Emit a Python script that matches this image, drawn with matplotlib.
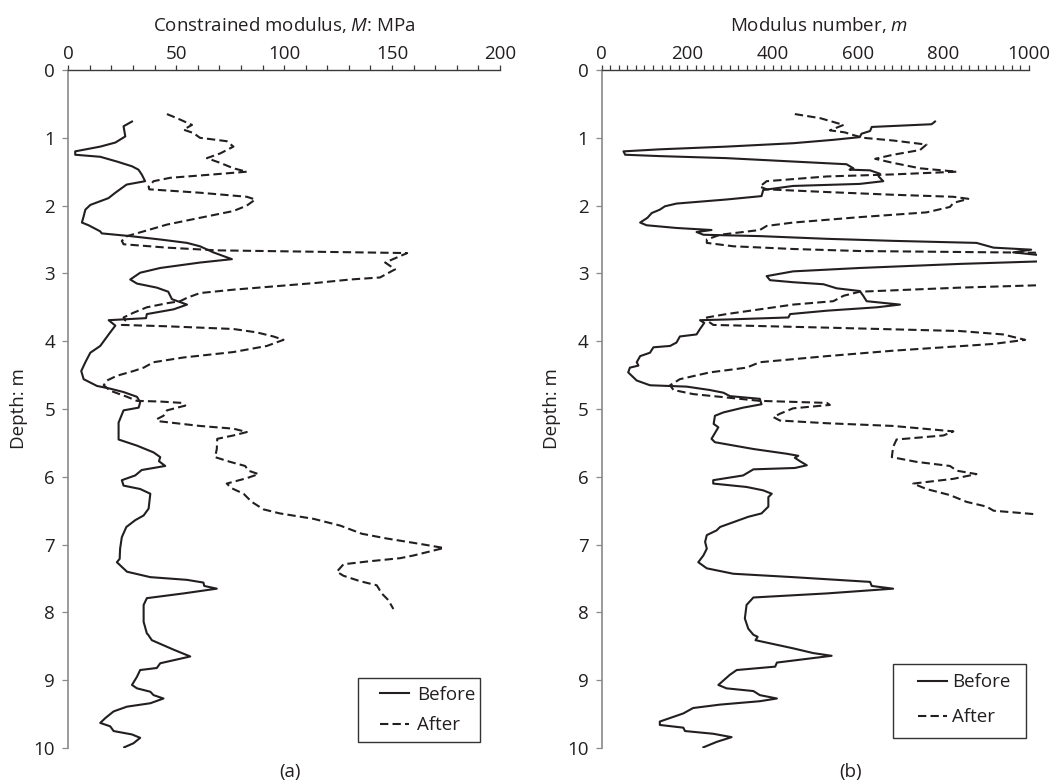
import matplotlib
matplotlib.use('Agg')
import matplotlib.pyplot as plt
from matplotlib.ticker import MultipleLocator
from matplotlib.patches import Rectangle

plt.rcParams['font.family'] = ['Open Sans', 'DejaVu Sans']
plt.rcParams['mathtext.fontset'] = 'custom'
plt.rcParams['mathtext.it'] = 'Open Sans:italic'
plt.rcParams['mathtext.rm'] = 'Open Sans'

INK = '#231f20'
FS = 13.5

# (a) constrained modulus M (MPa) against depth (m)
depth_a_before = [0.76, 0.83, 0.98, 1.07, 1.13, 1.20, 1.25, 1.28, 1.35, 1.42, 1.47, 1.54, 1.64, 1.69,
                  1.81, 1.89, 1.99, 2.06, 2.16, 2.25, 2.29, 2.38, 2.41, 2.45, 2.50, 2.55, 2.60, 2.69,
                  2.79, 2.84, 2.92, 2.99, 3.09, 3.15, 3.21, 3.27, 3.38, 3.46, 3.53, 3.60, 3.66, 3.69,
                  3.77, 3.87, 4.07, 4.17, 4.31, 4.44, 4.56, 4.66, 4.70, 4.75, 4.82, 4.90, 4.98, 5.02,
                  5.20, 5.45, 5.54, 5.64, 5.71, 5.77, 5.84, 5.90, 5.98, 6.05, 6.13, 6.18, 6.25, 6.47,
                  6.57, 6.64, 6.74, 6.89, 7.06, 7.21, 7.26, 7.40, 7.48, 7.52, 7.56, 7.61, 7.65, 7.72,
                  7.79, 7.89, 8.14, 8.31, 8.33, 8.41, 8.55, 8.65, 8.75, 8.82, 8.85, 8.95, 9.07, 9.12,
                  9.17, 9.22, 9.27, 9.34, 9.39, 9.46, 9.56, 9.63, 9.68, 9.75, 9.80, 9.85, 9.93, 9.99]
M_before = [29.5, 25.6, 26.4, 21.8, 14.8, 3.2, 3.2, 14.8, 22.5, 29.5, 32.5, 34.0, 35.6, 27.0,
            21.8, 18.6, 10.2, 7.9, 7.1, 6.3, 9.4, 14.8, 15.5, 28.7, 42.6, 55.0, 61.0, 67.2,
            75.8, 61.0, 42.6, 33.3, 28.7, 31.8, 41.0, 46.3, 48.0, 55.0, 48.8, 36.4, 36.0, 18.7,
            21.8, 19.4, 14.8, 10.2, 7.9, 6.0, 7.1, 13.3, 19.4, 25.6, 31.8, 33.3, 32.6, 25.6,
            23.3, 23.3, 31.8, 39.5, 42.6, 42.0, 44.9, 34.0, 31.0, 24.8, 25.6, 33.3, 38.0, 37.2,
            34.9, 31.0, 26.9, 24.8, 24.0, 23.8, 22.5, 27.2, 38.0, 55.0, 62.6, 63.0, 68.8, 53.4,
            36.4, 34.9, 34.9, 36.4, 37.0, 38.7, 48.8, 56.5, 42.6, 41.0, 33.3, 31.8, 29.5, 31.8,
            38.0, 39.5, 44.1, 38.0, 27.2, 21.0, 17.1, 14.8, 19.4, 21.0, 29.5, 33.3, 30.2, 25.9]

depth_a_after = [0.65, 0.71, 0.81, 0.88, 0.93, 1.00, 1.05, 1.13, 1.23, 1.30, 1.37, 1.45, 1.50, 1.54,
                 1.59, 1.64, 1.72, 1.76, 1.81, 1.87, 1.91, 2.00, 2.08, 2.18, 2.28, 2.38, 2.45, 2.52,
                 2.57, 2.62, 2.66, 2.70, 2.84, 2.94, 3.06, 3.09, 3.14, 3.20, 3.24, 3.29, 3.36, 3.41,
                 3.44, 3.50, 3.58, 3.65, 3.69, 3.76, 3.78, 3.82, 3.87, 3.93, 3.98, 4.07, 4.16, 4.24,
                 4.31, 4.39, 4.44, 4.51, 4.58, 4.65, 4.73, 4.82, 4.88, 4.89, 4.91, 4.95, 5.02, 5.10,
                 5.15, 5.18, 5.25, 5.29, 5.34, 5.39, 5.44, 5.59, 5.71, 5.78, 5.84, 5.91, 5.96, 6.02,
                 6.10, 6.17, 6.25, 6.37, 6.48, 6.54, 6.62, 6.72, 6.84, 6.91, 6.99, 7.05, 7.16, 7.20,
                 7.25, 7.29, 7.40, 7.46, 7.54, 7.60, 7.72, 7.82, 7.95]
M_after = [45.7, 50.3, 57.3, 53.4, 58.0, 61.0, 73.4, 76.5, 70.4, 64.2, 70.4, 76.5, 82.7, 67.3,
           47.2, 39.5, 37.2, 37.5, 61.0, 82.7, 86.6, 82.7, 76.5, 61.0, 45.7, 34.9, 27.2, 24.8,
           25.6, 45.7, 68.8, 157.0, 146.8, 151.4, 144.4, 130.6, 115.0, 92.0, 76.5, 61.0, 55.0, 51.8,
           45.7, 36.4, 30.2, 25.6, 26.4, 24.8, 45.7, 76.5, 87.3, 95.0, 99.7, 92.0, 76.5, 53.4,
           39.5, 34.9, 30.2, 22.5, 17.9, 16.4, 19.4, 27.2, 31.8, 42.6, 52.6, 54.2, 45.7, 44.1,
           41.0, 41.8, 61.0, 76.5, 82.7, 76.5, 69.0, 68.8, 68.0, 75.0, 81.9, 83.5, 88.1, 82.7,
           73.4, 75.8, 81.2, 85.0, 90.4, 98.0, 113.6, 126.0, 136.0, 147.5, 163.0, 174.0, 160.0, 153.8,
           138.3, 127.5, 124.4, 127.5, 135.2, 142.9, 145.2, 148.3, 150.6]

# (b) modulus number m against depth (m)
depth_b_before = [0.76, 0.80, 0.84, 0.90, 0.94, 0.99, 1.03, 1.08, 1.13, 1.17, 1.20, 1.25, 1.27, 1.30,
                  1.35, 1.39, 1.45, 1.47, 1.48, 1.53, 1.57, 1.64, 1.68, 1.71, 1.77, 1.86, 1.91, 1.97,
                  2.01, 2.06, 2.11, 2.18, 2.25, 2.29, 2.33, 2.36, 2.39, 2.43, 2.45, 2.49, 2.52, 2.55,
                  2.62, 2.65, 2.69, 2.74, 2.82, 2.86, 2.92, 2.97, 3.04, 3.10, 3.13, 3.16, 3.22, 3.26,
                  3.33, 3.41, 3.46, 3.50, 3.55, 3.60, 3.65, 3.68, 3.69, 3.73, 3.82, 3.90, 3.93, 4.02,
                  4.07, 4.09, 4.17, 4.22, 4.31, 4.36, 4.39, 4.46, 4.58, 4.65, 4.67, 4.72, 4.76, 4.81,
                  4.85, 4.93, 4.98, 5.05, 5.10, 5.22, 5.27, 5.44, 5.49, 5.59, 5.66, 5.69, 5.72, 5.77,
                  5.83, 5.87, 5.89, 5.95, 5.98, 6.05, 6.10, 6.15, 6.20, 6.25, 6.30, 6.44, 6.54, 6.59,
                  6.67, 6.74, 6.79, 6.86, 6.96, 7.06, 7.16, 7.26, 7.35, 7.43, 7.48, 7.55, 7.61, 7.65,
                  7.72, 7.78, 7.89, 8.09, 8.24, 8.33, 8.36, 8.41, 8.53, 8.60, 8.64, 8.74, 8.80, 8.85,
                  8.92, 9.07, 9.12, 9.16, 9.22, 9.27, 9.31, 9.36, 9.41, 9.49, 9.61, 9.66, 9.70, 9.75,
                  9.79, 9.84, 9.91, 9.99]
m_before = [780, 772, 632, 628, 608, 604, 542, 448, 292, 136, 51, 55, 136, 292,
            448, 573, 589, 580, 628, 651, 648, 659, 604, 448, 378, 374, 292, 175,
            148, 136, 117, 107, 90, 105, 175, 257, 222, 238, 370, 527, 682, 877,
            917, 1005, 963, 1040, 1040, 838, 604, 448, 386, 394, 448, 519, 550, 604,
            612, 620, 698, 644, 527, 441, 437, 292, 230, 240, 230, 222, 183, 175,
            160, 121, 113, 90, 82, 86, 66, 62, 82, 113, 199, 253, 285, 300,
            370, 374, 331, 285, 265, 262, 273, 257, 265, 355, 433, 460, 452, 464,
            480, 452, 355, 339, 331, 261, 261, 339, 378, 398, 390, 390, 374, 343,
            308, 277, 269, 246, 242, 246, 238, 226, 246, 308, 448, 628, 632, 682,
            527, 355, 339, 335, 343, 355, 365, 360, 448, 495, 538, 410, 406, 316,
            300, 273, 292, 355, 370, 410, 370, 277, 214, 191, 136, 136, 191, 195,
            261, 304, 269, 238]

depth_b_after = [0.65, 0.71, 0.81, 0.89, 0.92, 0.96, 1.00, 1.04, 1.10, 1.18, 1.25, 1.31, 1.37, 1.45,
                 1.50, 1.54, 1.57, 1.64, 1.72, 1.76, 1.80, 1.84, 1.87, 1.90, 1.96, 2.02, 2.10, 2.17,
                 2.25, 2.30, 2.36, 2.43, 2.50, 2.55, 2.60, 2.64, 2.67, 2.70, 3.16, 3.21, 3.27, 3.33,
                 3.41, 3.46, 3.53, 3.60, 3.65, 3.71, 3.76, 3.80, 3.85, 3.90, 3.98, 4.04, 4.14, 4.22,
                 4.31, 4.39, 4.46, 4.56, 4.65, 4.72, 4.78, 4.83, 4.88, 4.91, 4.94, 4.99, 5.07, 5.12,
                 5.17, 5.21, 5.25, 5.33, 5.39, 5.45, 5.56, 5.71, 5.78, 5.84, 5.91, 5.96, 6.03, 6.10,
                 6.18, 6.27, 6.37, 6.44, 6.50, 6.56]
m_after = [452, 511, 566, 534, 569, 589, 612, 682, 760, 745, 682, 640, 682, 745,
           831, 682, 527, 386, 370, 386, 527, 682, 823, 858, 823, 815, 760, 604,
           448, 386, 370, 277, 246, 246, 308, 448, 604, 1100, 1100, 838, 604, 566,
           542, 448, 370, 292, 246, 250, 261, 527, 838, 939, 991, 917, 682, 527,
           370, 339, 253, 183, 160, 168, 214, 292, 370, 527, 534, 448, 417, 402,
           417, 527, 682, 823, 800, 690, 682, 679, 737, 815, 831, 877, 823, 729,
           760, 815, 854, 901, 917, 1030]

legend_labels = ['Before', 'After']


def style_axes(ax, xmax, major, minor, xlabel):
    ax.set_ylim(10, 0)
    ax.xaxis.tick_top()
    ax.xaxis.set_label_position('top')
    ax.set_xticks(range(0, xmax + 1, major))
    ax.xaxis.set_minor_locator(MultipleLocator(minor))
    ax.set_yticks(range(0, 11))
    for s in ['right', 'bottom']:
        ax.spines[s].set_visible(False)
    ax.spines['top'].set_color('#3a3a3a')
    ax.spines['left'].set_color('#8a8a8a')
    ax.spines['top'].set_linewidth(1.0)
    ax.spines['left'].set_linewidth(1.2)
    ax.spines['top'].set_bounds(0, xmax)
    ax.tick_params(axis='x', which='both', direction='out', length=3.5, width=0.9,
                   color='#3a3a3a', labelsize=FS, labelcolor=INK, pad=1.5)
    ax.tick_params(axis='y', direction='out', length=4.5, width=0.9,
                   color='#8a8a8a', labelsize=FS, labelcolor=INK, pad=5)
    ax.set_xlabel(xlabel, fontsize=FS, color=INK, labelpad=10)
    ax.set_ylabel('Depth: m', fontsize=FS, color=INK, labelpad=4)


def boxed_legend(ax, box, anchor, spacing, textpad):
    ax.add_patch(Rectangle(box[:2], box[2], box[3], transform=ax.transAxes, fill=False,
                           edgecolor='#333333', lw=1.0, clip_on=False, zorder=5))
    leg = ax.legend(loc='upper left', bbox_to_anchor=anchor, frameon=False, fontsize=FS,
                    handlelength=1.55, handletextpad=textpad, labelspacing=spacing,
                    borderpad=0, borderaxespad=0)
    for t in leg.get_texts():
        t.set_color(INK)


fig = plt.figure(figsize=(10.6, 7.84), dpi=100)
ax1 = fig.add_axes([68.3 / 1060, 1 - 748 / 784, 431.7 / 1060, 678 / 784])
ax2 = fig.add_axes([601.7 / 1060, 1 - 748 / 784, 435.0 / 1060, 678 / 784])

ax1.plot(M_before, depth_a_before, color=INK, lw=1.5, label=legend_labels[0])
ax1.plot(M_after, depth_a_after, color=INK, lw=1.5, ls=(0, (4, 2)), label=legend_labels[1])
ax1.set_xlim(0, 200)
style_axes(ax1, 200, 50, 10, 'Constrained modulus, $\\mathit{M}$: MPa')
boxed_legend(ax1, (0.671, 0.0088, 0.2826, 0.0944), (0.722, 0.092), 0.68, 0.42)

ax2.plot(m_before, depth_b_before, color=INK, lw=1.5, label=legend_labels[0])
ax2.plot(m_after, depth_b_after, color=INK, lw=1.5, ls=(0, (4, 2)), label=legend_labels[1])
ax2.set_xlim(0, 1018)
style_axes(ax2, 1000, 200, 20, 'Modulus number, $\\mathit{m}$')
boxed_legend(ax2, (0.6697, 0.0147, 0.3057, 0.109), (0.727, 0.110), 0.9, 0.28)

fig.text(290 / 1060, 1 - 772 / 784, '(a)', ha='center', va='center', fontsize=FS, color=INK)
fig.text(851 / 1060, 1 - 772 / 784, '(b)', ha='center', va='center', fontsize=FS, color=INK)

fig.savefig('out.png', dpi=100)
